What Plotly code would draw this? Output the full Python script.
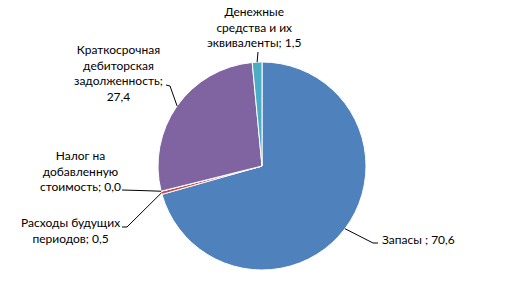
import math
import plotly.graph_objects as go

labels = ["Запасы", "Расходы будущих периодов", "Налог на добавленную стоимость",
          "Краткосрочная дебиторская задолженность", "Денежные средства и их эквиваленты"]
values = [70.6, 0.5, 0.0, 27.4, 1.5]
label_texts = ["Запасы ; 70,6", "Расходы будущих<br>периодов; 0,5",
               "Налог на<br>добавленную<br>стоимость; 0,0",
               "Краткосрочная<br>дебиторская<br>задолженность;<br>27,4",
               "Денежные<br>средства и их<br>эквиваленты; 1,5"]
colors = ["#4F81BD", "#C0504D", "#9BBB59", "#8064A2", "#4BACC6"]

W, H = 523, 284
CX, CY, R = 262, 166, 104

# label layout (pixel positions): (x, y, xanchor, elbow point, end point of leader)
# anchor fraction on the slice: 'mid' uses slice middle, 'end' uses slice end boundary
label_layout = [
    dict(x=380, y=239, xanchor="left", elbow=(373, 243), end=(378, 243), where="mid"),
    dict(x=70, y=230, xanchor="center", elbow=(127, 227), end=(122, 227), where="mid"),
    dict(x=80, y=171, xanchor="center", elbow=(140, 190.5), end=(122, 190), where="end"),
    dict(x=118, y=73, xanchor="center", elbow=(170, 86), end=(166, 85), where="mid"),
    dict(x=254, y=27, xanchor="center", elbow=(258, 52), end=(258, 52), where="mid"),
]

def px2paper(x, y):
    return x / W, 1 - y / H

fig = go.Figure(go.Pie(
    labels=labels, values=values, sort=False, direction="clockwise", rotation=0,
    marker=dict(colors=colors, line=dict(color="white", width=1)),
    textinfo="none", hoverinfo="label+value", showlegend=False,
    domain=dict(x=[(CX - R) / W, (CX + R) / W], y=[1 - (CY + R) / H, 1 - (CY - R) / H]),
))

total = sum(values)
cum = 0.0
shapes = []
annotations = []
for v, txt, lay in zip(values, label_texts, label_layout):
    start = cum
    cum += v
    f = (start + cum) / 2 / total if lay["where"] == "mid" else cum / total
    th = 2 * math.pi * f
    ex, ey = CX + R * math.sin(th), CY - R * math.cos(th)
    pts = [lay["end"], lay["elbow"], (ex, ey)]
    path = ""
    for i, (x, y) in enumerate(pts):
        xp, yp = px2paper(x, y)
        path += ("M" if i == 0 else "L") + f"{xp},{yp} "
    shapes.append(dict(type="path", path=path.strip(), xref="paper", yref="paper",
                       line=dict(color="black", width=1)))
    ax, ay = px2paper(lay["x"], lay["y"])
    annotations.append(dict(text=txt, x=ax, y=ay, xref="paper", yref="paper",
                            xanchor=lay["xanchor"], yanchor="middle", showarrow=False,
                            align="center", font=dict(size=12, color="black")))

fig.update_layout(
    width=W, height=H, margin=dict(l=0, r=0, t=0, b=0),
    paper_bgcolor="white", plot_bgcolor="white",
    font=dict(family="Lato, Liberation Sans, sans-serif", size=12, color="black"),
    shapes=shapes, annotations=annotations,
)
fig.write_html("out.html")
